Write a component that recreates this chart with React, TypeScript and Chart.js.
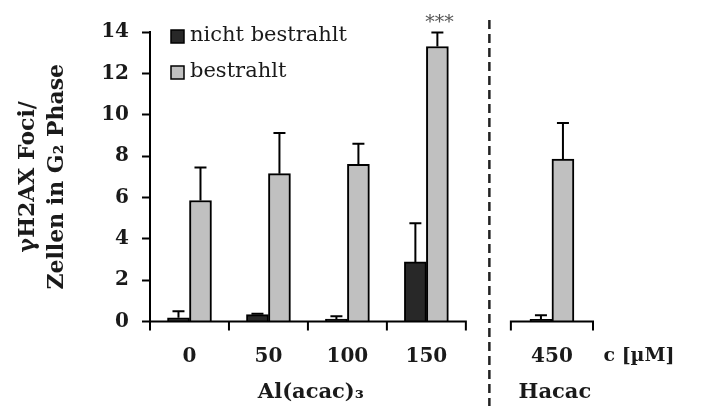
import React, { useEffect, useRef } from "react";
import { Chart, registerables } from "chart.js";

Chart.register(...registerables);

// ---- data ----
const categories = ["0", "50", "100", "150", "450"];
const groupOfCategory = [0, 0, 0, 0, 1];
const groupLabels = ["Al(acac)₃", "Hacac"];
const seriesNames = ["nicht bestrahlt", "bestrahlt"];
const darkValues = [0.18, 0.33, 0.12, 2.88, 0.1];
const darkErrors = [0.32, 0.04, 0.13, 1.87, 0.2];
const greyValues = [5.85, 7.15, 7.6, 13.3, 7.86];
const greyErrors = [1.6, 1.97, 1.0, 0.68, 1.74];
const greySignificance = ["", "", "", "***", ""];
const yTicks = [0, 2, 4, 6, 8, 10, 12, 14];
const yTitle = ["γH2AX Foci/", "Zellen in G₂ Phase"];
const xUnitLabel = "c [µM]";

// ---- layout / style ----
const FONT = "'DejaVu Serif', serif";
const DARK = "#282828";
const GREY = "#c0c0c0";
const GROUP_GAP = 0.59;
const GROUP_HALF = [0.5, 0.52];

const catX = categories.map((_, i) => i + 0.5 + (groupOfCategory[i] === 1 ? GROUP_GAP : 0));

const overlay = {
  id: "overlay",
  afterDatasetsDraw(chart: any) {
    const ctx = chart.ctx;
    const xs = chart.scales.x;
    const ys = chart.scales.y;
    const area = chart.chartArea;
    ctx.save();

    // error bars
    const sets = [
      { v: darkValues, e: darkErrors },
      { v: greyValues, e: greyErrors },
    ];
    ctx.strokeStyle = "#000";
    ctx.lineWidth = 2;
    sets.forEach((s, d) => {
      const meta = chart.getDatasetMeta(d);
      meta.data.forEach((el: any, i: number) => {
        const x = el.x;
        const yTop = ys.getPixelForValue(s.v[i]);
        const yErr = ys.getPixelForValue(s.v[i] + s.e[i]);
        ctx.beginPath();
        ctx.moveTo(x, yTop);
        ctx.lineTo(x, yErr);
        ctx.moveTo(x - 6, yErr);
        ctx.lineTo(x + 6, yErr);
        ctx.stroke();
      });
    });

    // significance
    const gMeta = chart.getDatasetMeta(1);
    ctx.fillStyle = "#555";
    ctx.font = `19px ${FONT}`;
    ctx.textAlign = "center";
    ctx.textBaseline = "middle";
    greySignificance.forEach((t, i) => {
      if (!t) return;
      const el: any = gMeta.data[i];
      const yErr = ys.getPixelForValue(greyValues[i] + greyErrors[i]);
      ctx.fillText(t, el.x + 2, yErr - 9);
    });

    // broken x axis segments
    ctx.strokeStyle = "#000";
    ctx.lineWidth = 2;
    const yb = area.bottom;
    const segs: number[][] = [];
    groupLabels.forEach((_, g) => {
      const idx = categories.map((_, i) => i).filter((i) => groupOfCategory[i] === g);
      const a = catX[idx[0]] - GROUP_HALF[g];
      const b = catX[idx[idx.length - 1]] + GROUP_HALF[g];
      segs.push([a, b]);
      const pa = xs.getPixelForValue(a);
      const pb = xs.getPixelForValue(b);
      ctx.beginPath();
      ctx.moveTo(pa - 1, yb);
      ctx.lineTo(pb + 1, yb);
      const bounds = [a, ...idx.slice(0, -1).map((i) => catX[i] + 0.5), b];
      bounds.forEach((v) => {
        const p = xs.getPixelForValue(v);
        ctx.moveTo(p, yb);
        ctx.lineTo(p, yb + 9);
      });
      ctx.stroke();
      // group label
      ctx.fillStyle = "#1a1a1a";
      ctx.font = `bold 21px ${FONT}`;
      ctx.textAlign = "center";
      ctx.textBaseline = "middle";
      ctx.fillText(groupLabels[g], (pa + pb) / 2 + 3, 393);
    });

    // dashed separator
    const sepX = xs.getPixelForValue((segs[0][1] + segs[1][0]) / 2) + 1;
    ctx.strokeStyle = "#222";
    ctx.lineWidth = 2.5;
    ctx.setLineDash([9, 5]);
    ctx.beginPath();
    ctx.moveTo(sepX, 20);
    ctx.lineTo(sepX, chart.height);
    ctx.stroke();
    ctx.setLineDash([]);

    // unit label
    ctx.fillStyle = "#1a1a1a";
    ctx.font = `bold 19px ${FONT}`;
    ctx.textAlign = "center";
    ctx.textBaseline = "middle";
    ctx.fillText(xUnitLabel, 639, 356);

    // legend
    const colors = [DARK, GREY];
    seriesNames.forEach((name, k) => {
      const by = 30 + k * 36;
      ctx.fillStyle = colors[k];
      ctx.fillRect(171, by, 13, 13);
      ctx.strokeStyle = "#000";
      ctx.lineWidth = 1.5;
      ctx.strokeRect(171, by, 13, 13);
      ctx.fillStyle = "#1a1a1a";
      ctx.font = `21px ${FONT}`;
      ctx.textAlign = "left";
      ctx.textBaseline = "middle";
      ctx.fillText(name, 190, by + 6);
    });

    ctx.restore();
  },
};

export default function App() {
  const ref = useRef<HTMLCanvasElement | null>(null);
  useEffect(() => {
    if (!ref.current) return;
    const chart = new Chart(ref.current, {
      type: "bar",
      data: {
        datasets: [
          {
            label: seriesNames[0],
            data: catX.map((x, i) => ({ x, y: darkValues[i] })),
            backgroundColor: DARK,
            borderColor: "#000",
            borderWidth: 2,
            barThickness: 22,
          },
          {
            label: seriesNames[1],
            data: catX.map((x, i) => ({ x, y: greyValues[i] })),
            backgroundColor: GREY,
            borderColor: "#000",
            borderWidth: 2,
            barThickness: 22,
          },
        ],
      },
      options: {
        animation: false,
        responsive: true,
        maintainAspectRatio: false,
        layout: { padding: { top: 32, right: 115, left: 0, bottom: 0 } },
        plugins: { legend: { display: false }, tooltip: { enabled: false } },
        scales: {
          x: {
            type: "linear",
            min: 0,
            max: 5.61,
            offset: false,
            border: { display: false },
            grid: { display: false, drawTicks: false },
            afterBuildTicks: (scale: any) => {
              scale.ticks = catX.map((v) => ({ value: v }));
            },
            afterFit: (scale: any) => {
              scale.height = 84.5;
            },
            ticks: {
              autoSkip: false,
              maxRotation: 0,
              minRotation: 0,
              padding: 23,
              color: "#1a1a1a",
              font: { family: FONT, size: 20, weight: "bold" },
              callback: (_v: any, i: number) => categories[i],
            },
          },
          y: {
            min: 0,
            max: 14,
            afterBuildTicks: (scale: any) => {
              scale.ticks = yTicks.map((v) => ({ value: v }));
            },
            afterFit: (scale: any) => {
              scale.width = 150;
            },
            border: { display: true, color: "#000", width: 2 },
            grid: {
              display: true,
              drawOnChartArea: false,
              drawTicks: true,
              tickLength: 8,
              tickWidth: 2,
              tickColor: "#000",
            },
            ticks: {
              padding: 13,
              color: "#1a1a1a",
              font: { family: FONT, size: 20, weight: "bold" },
            },
            title: {
              display: true,
              text: yTitle,
              color: "#1a1a1a",
              font: { family: FONT, size: 22, weight: "bold", lineHeight: 1.3 },
              padding: { top: 14, bottom: 0 },
            },
          },
        },
      },
      plugins: [overlay],
    });
    return () => chart.destroy();
  }, []);
  return (
    <div style={{ position: "fixed", left: 0, top: 0, width: 708, height: 406, background: "#fff" }}>
      <canvas ref={ref} />
    </div>
  );
}
